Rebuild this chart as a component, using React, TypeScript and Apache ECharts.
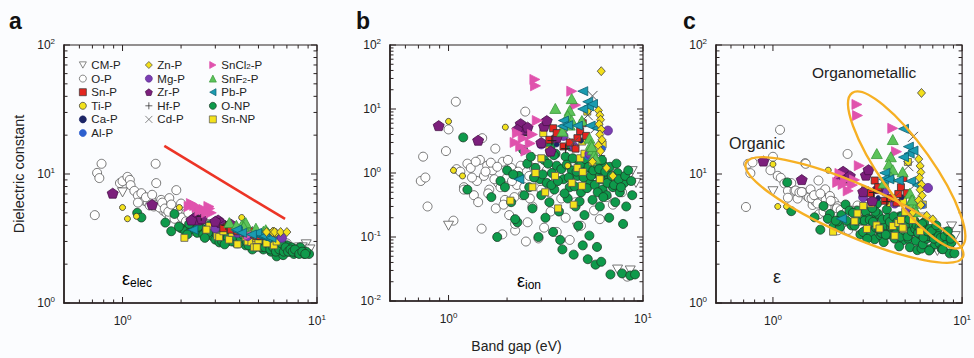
import React, { useEffect, useRef } from 'react';
import * as echarts from 'echarts';

// Each row: [band gap (eV), electronic dielectric constant, ionic dielectric constant]
type Row = [number, number, number];

const CM_P: Row[] = [
  [1.0, 7.2, 0.15], [4.6, 2.9, 0.14], [7.4, 2.5, 0.031], [8.6, 2.6, 0.03], [8.8, 2.85, 1.07],
  [8.4, 2.7, 0.84], [9.2, 2.6, 0.7], [7.0, 2.7, 0.6], [6.0, 3.0, 1.6],
];
const O_P: Row[] = [
  [0.72, 4.8, 0.75], [0.74, 10.2, 1.8], [0.78, 12.0, 0.3], [0.76, 9.3, 0.85], [0.97, 8.5, 2.2],
  [1.0, 8.8, 4.8], [1.06, 9.5, 0.18], [1.09, 9.0, 13], [1.1, 8.2, 1.15], [1.15, 7.4, 1.05],
  [1.2, 6.8, 0.6], [1.25, 7.1, 1.4], [1.3, 6.2, 1.2], [1.35, 6.0, 0.45], [1.4, 6.5, 0.75],
  [1.48, 12.0, 0.135], [1.49, 8.5, 3.5], [1.45, 5.6, 1.6], [1.52, 5.8, 0.9], [1.58, 6.3, 1.3],
  [1.62, 5.2, 0.55], [1.68, 5.0, 1.1], [1.74, 6.5, 2.4], [1.75, 4.6, 0.28], [1.8, 5.4, 0.7],
  [1.89, 7.5, 0.11], [1.9, 4.8, 1.5], [1.95, 4.3, 0.38], [2.0, 5.9, 0.85], [2.05, 4.1, 0.22],
  [2.1, 4.9, 1.2], [2.2, 5.5, 0.126], [2.25, 4.4, 0.65], [2.35, 4.0, 1.3], [2.4, 4.7, 0.45],
  [2.48, 5.2, 9.1], [2.55, 3.9, 0.17], [2.6, 4.3, 0.9], [2.7, 3.7, 0.3], [2.8, 4.1, 1.6],
  [2.9, 3.6, 0.095], [3.0, 3.9, 0.55], [3.1, 3.5, 0.14], [3.2, 3.8, 1.1], [3.35, 3.4, 0.25],
  [3.5, 3.6, 0.7], [3.6, 3.3, 0.12], [3.8, 3.5, 0.4], [4.0, 3.2, 0.2], [4.2, 3.4, 0.09],
  [4.5, 3.1, 0.35], [4.8, 3.2, 0.15], [5.2, 3.0, 0.6], [5.6, 3.1, 0.26], [6.0, 2.9, 0.19],
  [6.5, 2.8, 0.42], [7.0, 2.9, 0.32], [7.8, 2.7, 0.5], [8.3, 2.6, 0.024], [1.2, 6.0, 0.55],
  [1.32, 6.6, 0.85], [1.38, 5.7, 1.5], [1.42, 6.9, 0.35], [1.55, 5.5, 1.05], [1.6, 6.0, 0.48],
  [1.65, 5.4, 1.45], [1.72, 5.1, 0.8], [1.78, 5.8, 1.25], [1.85, 4.5, 0.6], [1.92, 5.2, 0.32],
  [2.02, 4.6, 1.6], [2.12, 4.3, 0.75], [2.18, 5.0, 0.42], [2.28, 4.2, 1.05], [2.45, 4.5, 0.6],
  [2.62, 3.8, 0.4], [2.75, 4.0, 1.2], [2.95, 3.7, 0.75], [3.3, 3.6, 0.5], [3.7, 3.4, 0.9],
  [2.2, 3.5, 0.16], [2.5, 3.6, 0.085],
];
const SN_P: Row[] = [
  [3.45, 3.9, 5.0], [3.6, 3.7, 4.2], [4.6, 3.5, 3.5], [4.75, 3.4, 4.5], [4.5, 3.6, 2.4],
  [4.9, 3.3, 6.0], [3.9, 3.6, 2.6], [4.2, 3.5, 3.0], [3.3, 3.8, 3.3], [5.1, 3.3, 3.8],
];
const TI_P: Row[] = [
  [1.0, 5.5, 6.4], [1.06, 4.5, 1.1], [1.18, 4.7, 0.9], [1.96, 5.5, 5.2], [4.1, 4.6, 1.3], [3.3, 4.0, 2.0],
];
const CA_P: Row[] = [[3.6, 3.7, 2.8], [4.8, 3.4, 3.2]];
const AL_P: Row[] = [[5.2, 3.5, 1.8], [6.2, 3.3, 2.4]];
const ZN_P: Row[] = [
  [6.1, 3.5, 39], [5.9, 3.55, 9.5], [6.0, 3.55, 8.0], [6.05, 3.5, 6.8], [5.95, 3.55, 5.8],
  [6.1, 3.5, 4.8], [6.0, 3.55, 4.0], [6.15, 3.5, 3.3], [5.9, 3.55, 2.7], [6.05, 3.55, 2.2],
  [5.5, 3.55, 1.5], [6.5, 3.55, 1.2], [7.0, 3.55, 0.9],
];
const MG_P: Row[] = [[6.6, 3.2, 4.6], [4.4, 3.3, 2.6], [3.9, 3.5, 3.8], [5.3, 3.4, 2.0], [3.0, 3.8, 2.8]];
const ZR_P: Row[] = [
  [0.89, 7.1, 5.5], [1.42, 5.8, 3.25], [2.35, 4.6, 5.9], [2.45, 4.4, 4.6], [2.55, 4.5, 5.2],
  [2.26, 4.4, 4.8], [3.1, 4.4, 5.4], [3.2, 4.2, 6.6], [3.0, 4.3, 3.0], [3.35, 4.0, 2.2], [3.6, 4.1, 3.6],
];
const HF_P: Row[] = [[2.54, 4.7, 3.9], [3.4, 4.0, 3.2], [4.0, 3.7, 2.4]];
const CD_P: Row[] = [[5.5, 3.4, 16], [5.2, 3.5, 8], [5.7, 3.4, 5], [4.4, 3.6, 3.0]];
const SNCL2_P: Row[] = [
  [2.78, 5.6, 29], [2.8, 5.4, 23], [4.3, 3.6, 19], [4.5, 3.4, 11.5], [2.86, 5.0, 6.6],
  [2.26, 5.9, 4.2], [2.42, 5.5, 3.5], [2.63, 5.3, 2.9], [2.2, 5.6, 3.0], [2.5, 5.2, 2.2],
  [2.35, 5.7, 2.6], [2.7, 5.0, 4.0],
];
const SNF2_P: Row[] = [
  [4.3, 4.0, 14.5], [3.54, 4.2, 10.2], [4.2, 4.1, 9.5], [4.1, 4.0, 7.9], [4.3, 4.2, 6.6],
  [4.2, 3.9, 5.6], [4.85, 3.8, 6.6], [5.3, 3.6, 3.5], [5.4, 3.5, 2.8], [5.5, 3.6, 2.3],
  [5.6, 3.5, 1.9], [5.7, 3.4, 1.7], [3.85, 4.0, 4.5], [5.45, 3.7, 2.6],
];
const PB_P: Row[] = [
  [4.9, 3.4, 19], [5.2, 3.3, 13], [5.25, 3.4, 11], [4.9, 3.5, 10], [5.5, 3.2, 12],
  [3.9, 3.6, 6.6], [3.85, 3.7, 5.4], [4.1, 3.5, 5.6], [4.6, 3.4, 5.5], [5.35, 3.3, 5.5],
  [5.8, 3.2, 5.0], [2.3, 3.7, 0.8],
];
const O_NP: Row[] = [
  [1.19, 5.0, 3.6], [1.25, 4.6, 0.55], [1.66, 4.2, 0.42], [1.78, 3.6, 0.1], [1.85, 4.9, 0.75],
  [2.0, 3.8, 1.1], [2.1, 3.6, 0.35], [2.26, 3.7, 0.17], [2.3, 3.9, 0.9], [2.42, 3.5, 2.3],
  [2.54, 3.8, 1.4], [2.6, 3.4, 0.6], [2.7, 3.7, 0.28], [2.8, 4.0, 1.2], [2.9, 3.3, 0.1],
  [2.95, 3.6, 0.8], [3.0, 3.1, 0.45], [3.1, 3.5, 1.6], [3.2, 3.8, 0.7], [3.3, 3.2, 0.35],
  [3.4, 3.5, 1.0], [3.45, 3.0, 0.12], [3.5, 3.3, 0.55], [3.6, 3.6, 1.3], [3.7, 3.1, 0.25],
  [3.75, 3.4, 0.09], [3.85, 2.9, 0.064], [3.9, 3.2, 0.8], [4.0, 3.5, 1.8], [4.1, 3.0, 0.4],
  [4.2, 3.3, 0.6], [4.3, 2.8, 1.1], [4.4, 3.1, 0.053], [4.5, 3.4, 0.3], [4.6, 2.9, 0.9],
  [4.7, 3.2, 1.5], [4.8, 2.7, 0.5], [4.9, 3.0, 0.074], [5.0, 3.3, 0.22], [5.1, 2.8, 1.2],
  [5.2, 3.1, 0.045], [5.3, 2.6, 0.105], [5.35, 2.9, 0.7], [5.5, 3.2, 0.38], [5.6, 2.7, 1.6],
  [5.7, 3.0, 0.037], [5.8, 2.5, 0.07], [5.9, 2.8, 0.95], [6.0, 3.1, 0.3], [6.1, 2.6, 0.041],
  [6.2, 2.3, 0.55], [6.3, 2.9, 1.3], [6.5, 2.7, 0.45], [6.6, 2.5, 0.8], [6.8, 2.6, 0.026],
  [7.0, 2.8, 0.6], [7.2, 2.5, 0.35], [7.4, 2.7, 1.0], [7.6, 2.4, 0.5], [7.8, 2.6, 0.027],
  [8.0, 2.5, 0.7], [8.2, 2.7, 0.3], [8.6, 2.4, 0.025], [9.1, 2.4, 0.026], [8.8, 2.5, 0.45],
  [3.55, 3.9, 2.0], [4.25, 3.6, 2.6], [5.45, 3.5, 1.9], [2.2, 4.1, 0.19], [3.15, 2.95, 0.2],
  [4.65, 2.6, 0.15], [6.7, 2.35, 0.2], [7.9, 2.45, 0.16],
  [3.05, 3.4, 0.95], [3.25, 3.0, 1.4], [3.38, 3.6, 0.65], [3.48, 3.2, 1.9], [3.65, 3.0, 0.75],
  [3.8, 3.3, 1.15], [3.95, 2.9, 0.48], [4.05, 3.2, 1.35], [4.15, 3.4, 0.85], [4.35, 3.0, 1.7],
  [4.45, 2.8, 0.62], [4.55, 3.2, 1.05], [4.72, 2.9, 0.36], [4.82, 3.3, 1.4], [4.95, 2.8, 0.85],
  [5.05, 3.0, 1.65], [5.15, 2.7, 0.58], [5.25, 3.2, 1.25], [5.4, 2.7, 0.9], [5.55, 2.9, 1.1],
  [5.65, 3.1, 0.65], [5.75, 2.6, 1.4], [5.85, 3.0, 0.5], [5.95, 2.7, 1.15], [6.05, 2.9, 0.8],
  [6.15, 2.5, 1.6], [6.25, 2.8, 0.42], [6.4, 2.6, 1.05], [6.55, 2.9, 0.7], [6.75, 2.5, 1.25],
  [6.9, 2.7, 0.9], [7.1, 2.5, 0.65], [7.3, 2.6, 1.4], [7.5, 2.5, 0.8], [7.7, 2.6, 0.6],
  [8.1, 2.4, 0.9], [8.4, 2.5, 1.1], [8.7, 2.4, 0.75], [2.45, 3.9, 0.45], [2.75, 3.5, 0.85],
  [2.65, 3.2, 1.8], [3.35, 2.85, 2.6], [1.95, 3.9, 0.6], [2.15, 3.4, 0.95],
];
const SN_NP: Row[] = [
  [2.08, 3.2, 0.37], [2.8, 3.95, 1.0], [3.0, 3.95, 1.7], [3.07, 3.3, 4.2], [3.14, 3.25, 0.5],
  [3.53, 3.1, 0.9], [3.66, 3.5, 0.28], [4.3, 3.25, 0.7], [4.4, 3.0, 0.32], [4.6, 2.97, 1.2],
  [4.75, 2.7, 1.7], [4.87, 3.08, 3.1], [4.9, 2.7, 1.04], [4.85, 3.2, 0.63], [5.0, 3.08, 2.0],
  [5.17, 3.3, 9.1], [6.0, 2.8, 0.8], [6.2, 3.0, 2.8], [3.3, 3.6, 2.3], [3.9, 2.85, 5.0],
  [2.7, 3.7, 0.6], [5.5, 2.9, 1.5],
];

// Guide line in panel a (band gap, dielectric constant)
const RED_LINE: [number, number][] = [[1.64, 16.5], [6.85, 4.48]];
// Ellipse major-axis end points in panel c (band gap, dielectric constant)
const ORGANIC_TIPS: [number, number][] = [[0.72, 12.2], [10.1, 2.27]];
const ORGANOMETALLIC_TIPS: [number, number][] = [[2.62, 42.5], [9.9, 2.72]];

// Axis ticks
const X_MAJOR = [1, 10];
const X_MINOR = [0.6, 0.7, 0.8, 0.9, 2, 3, 4, 5, 6, 7, 8, 9];
const Y_MAJOR_AC = [1, 10, 100];
const Y_MINOR_AC = [2, 3, 4, 5, 6, 7, 8, 9, 20, 30, 40, 50, 60, 70, 80, 90];
const Y_MAJOR_B = [0.01, 0.1, 1, 10, 100];
const Y_MINOR_B = [
  0.02, 0.03, 0.04, 0.05, 0.06, 0.07, 0.08, 0.09, 0.2, 0.3, 0.4, 0.5, 0.6, 0.7, 0.8, 0.9,
  2, 3, 4, 5, 6, 7, 8, 9, 20, 30, 40, 50, 60, 70, 80, 90,
];

const LEGEND_COL1 = ['CM-P', 'O-P', 'Sn-P', 'Ti-P', 'Ca-P', 'Al-P'];
const LEGEND_COL2 = ['Zn-P', 'Mg-P', 'Zr-P', 'Hf-P', 'Cd-P'];
const LEGEND_COL3 = ['SnCl2-P', 'SnF2-P', 'Pb-P', 'O-NP', 'Sn-NP'];

const PENTAGON = 'path://M5,0L9.76,3.45L7.94,9.05L2.06,9.05L0.24,3.45Z';
const DOWN_TRI = 'path://M0,0L10,0L5,9Z';
const RIGHT_TRI = 'path://M0,0L9,5L0,10Z';
const LEFT_TRI = 'path://M9,0L0,5L9,10Z';
const PLUS = 'path://M5,0L5,10M0,5L10,5';
const CROSS = 'path://M0,0L10,10M10,0L0,10';

type Def = { name: string; rows: Row[]; symbol: string; size: number | number[]; color: string; border: string; bw?: number };
const DEFS: Def[] = [
  { name: 'O-P', rows: O_P, symbol: 'circle', size: 9, color: '#ffffff', border: '#555555' },
  { name: 'CM-P', rows: CM_P, symbol: DOWN_TRI, size: [10, 9], color: '#ffffff', border: '#555555' },
  { name: 'O-NP', rows: O_NP, symbol: 'circle', size: 9, color: '#0e9a4b', border: '#1d3b27' },
  { name: 'Sn-NP', rows: SN_NP, symbol: 'rect', size: 7, color: '#f4e21b', border: '#555555' },
  { name: 'Ti-P', rows: TI_P, symbol: 'circle', size: 6, color: '#f3e21d', border: '#333333' },
  { name: 'Ca-P', rows: CA_P, symbol: 'circle', size: 5, color: '#1c2566', border: '#1c2566' },
  { name: 'Al-P', rows: AL_P, symbol: 'circle', size: 6, color: '#2c5fcf', border: '#2c5fcf' },
  { name: 'Mg-P', rows: MG_P, symbol: 'circle', size: 9, color: '#7b3db3', border: '#5b2d8a' },
  { name: 'Zr-P', rows: ZR_P, symbol: PENTAGON, size: [11, 10], color: '#7c1f7c', border: '#4a124a' },
  { name: 'Sn-P', rows: SN_P, symbol: 'rect', size: 7, color: '#e3261f', border: '#333333' },
  { name: 'Hf-P', rows: HF_P, symbol: PLUS, size: 9, color: 'rgba(0,0,0,0)', border: '#222222', bw: 1 },
  { name: 'Cd-P', rows: CD_P, symbol: CROSS, size: 10, color: 'rgba(0,0,0,0)', border: '#555555', bw: 1 },
  { name: 'SnCl2-P', rows: SNCL2_P, symbol: RIGHT_TRI, size: [10, 10], color: '#e052ad', border: '#e052ad' },
  { name: 'SnF2-P', rows: SNF2_P, symbol: 'triangle', size: [11, 10], color: '#5cc35a', border: '#3a9a3a' },
  { name: 'Pb-P', rows: PB_P, symbol: LEFT_TRI, size: [10, 9], color: '#1a9bb0', border: '#0c5f70' },
  { name: 'Zn-P', rows: ZN_P, symbol: 'diamond', size: [8, 9], color: '#f3df1a', border: '#444444' },
];

const FONT = '"Liberation Sans Narrow", "Liberation Sans", Arial, sans-serif';
const INK = '#222222';

const powLabel = (v: number) => {
  const e = Math.log10(v);
  const r = Math.round(e);
  if (Math.abs(e - r) > 1e-6) return '';
  return `10{s|${r}}`;
};

const legendName = (n: string) => {
  if (n === 'SnCl2-P') return 'SnCl{b|2}-P';
  if (n === 'SnF2-P') return 'SnF{b|2}-P';
  return n;
};

export default function App() {
  const ref = useRef<HTMLDivElement>(null);

  useEffect(() => {
    document.body.style.margin = '0';
    if (!ref.current) return;
    const chart = echarts.init(ref.current, undefined, { renderer: 'svg' });

    const grids = [
      { left: 64, top: 45, width: 253, height: 258 },
      { left: 390, top: 45, width: 253, height: 258 },
      { left: 716, top: 45, width: 252, height: 258 },
    ];
    const yRanges: [number, number][] = [[1, 100], [0.01, 100], [1, 100]];

    const axisLabel = {
      formatter: powLabel,
      fontSize: 12,
      color: INK,
      fontFamily: FONT,
      lineHeight: 16,
      margin: 9,
      rich: { s: { fontSize: 8, lineHeight: 8, verticalAlign: 'top', color: INK, fontFamily: FONT } },
    };
    const axisLine = { show: true, onZero: false, lineStyle: { color: '#2a2222', width: 1.6 } };

    const xAxes = grids.map((_, i) => ({
      type: 'log', logBase: 10, gridIndex: i, min: 0.5, max: 10,
      axisLine, axisTick: { show: false }, splitLine: { show: false },
      axisLabel: { ...axisLabel, margin: 10 },
      ...(i === 1 ? { name: 'Band gap (eV)', nameLocation: 'middle', nameGap: 38,
        nameTextStyle: { fontSize: 14, color: INK, fontFamily: FONT } } : {}),
    }));
    const yAxes = grids.map((_, i) => ({
      type: 'log', logBase: 10, gridIndex: i, min: yRanges[i][0], max: yRanges[i][1],
      axisLine, axisTick: { show: false }, splitLine: { show: false },
      axisLabel,
      ...(i === 0 ? { name: 'Dielectric constant', nameLocation: 'middle', nameGap: 38,
        nameTextStyle: { fontSize: 14.5, color: INK, fontFamily: FONT } } : {}),
    }));

    const project = (r: Row, p: number): [number, number] =>
      p === 0 ? [r[0], r[1]] : p === 1 ? [r[0], r[2]] : [r[0], r[1] + r[2]];

    const scatter: any[] = [];
    [0, 1, 2].forEach((p) => {
      DEFS.forEach((d) => {
        scatter.push({
          type: 'scatter', name: d.name, xAxisIndex: p, yAxisIndex: p,
          data: d.rows.map((r) => project(r, p)),
          symbol: d.symbol, symbolSize: d.size, silent: true,
          itemStyle: { color: d.color, borderColor: d.border, borderWidth: d.bw ?? 0.8, opacity: 1 },
        });
      });
    });

    const tickData = (yMinor: number[], yMajor: number[], yRef: number) => [
      ...X_MINOR.map((v) => [v, yRef, 0, 0]),
      ...X_MAJOR.map((v) => [v, yRef, 0, 1]),
      ...yMinor.map((v) => [1, v, 1, 0]),
      ...yMajor.map((v) => [1, v, 1, 1]),
    ];
    const tickSeries = [0, 1, 2].map((p) => ({
      type: 'custom', xAxisIndex: p, yAxisIndex: p, silent: true, z: 10,
      data: p === 1 ? tickData(Y_MINOR_B, Y_MAJOR_B, 0.01) : tickData(Y_MINOR_AC, Y_MAJOR_AC, 1),
      encode: { x: 0, y: 1 },
      renderItem: (params: any, api: any) => {
        const cs = params.coordSys;
        const kind = api.value(2);
        const len = api.value(3) ? 6 : 3.5;
        const pt = api.coord([api.value(0), api.value(1)]);
        const style = { stroke: '#2a2222', lineWidth: 1 };
        if (kind === 0) {
          const x = pt[0];
          return { type: 'group', children: [
            { type: 'line', shape: { x1: x, y1: cs.y + cs.height, x2: x, y2: cs.y + cs.height - len }, style },
            { type: 'line', shape: { x1: x, y1: cs.y, x2: x, y2: cs.y + len }, style },
          ] };
        }
        const y = pt[1];
        return { type: 'group', children: [
          { type: 'line', shape: { x1: cs.x, y1: y, x2: cs.x + len, y2: y }, style },
          { type: 'line', shape: { x1: cs.x + cs.width, y1: y, x2: cs.x + cs.width - len, y2: y }, style },
        ] };
      },
    }));

    const legendBase = {
      orient: 'vertical', top: 54, itemWidth: 7, itemHeight: 7, itemGap: 1.6,
      selectedMode: false, formatter: legendName,
      itemStyle: { borderWidth: 0.7 },
      textStyle: {
        fontSize: 11.5, lineHeight: 11, color: INK, fontFamily: FONT,
        rich: { b: { fontSize: 8, lineHeight: 6, verticalAlign: 'bottom', color: INK, fontFamily: FONT } },
      },
    };

    const texts: any[] = [
      { id: 'la', type: 'text', x: 9, y: 21, style: { text: 'a', font: 'bold 23px "Liberation Sans", Arial', fill: '#111', textVerticalAlign: 'middle' } },
      { id: 'lb', type: 'text', x: 356, y: 21, style: { text: 'b', font: 'bold 23px "Liberation Sans", Arial', fill: '#111', textVerticalAlign: 'middle' } },
      { id: 'lc', type: 'text', x: 683, y: 21, style: { text: 'c', font: 'bold 23px "Liberation Sans", Arial', fill: '#111', textVerticalAlign: 'middle' } },
      { id: 'ea', type: 'text', x: 122, y: 279, style: { text: '{e|ε}{s|elec}', textVerticalAlign: 'middle',
        rich: { e: { fontSize: 18, fontFamily: FONT, color: INK }, s: { fontSize: 12, fontFamily: FONT, color: INK, padding: [8, 0, 0, 0] } } } },
      { id: 'eb', type: 'text', x: 517, y: 281, style: { text: '{e|ε}{s|ion}', textVerticalAlign: 'middle',
        rich: { e: { fontSize: 18, fontFamily: FONT, color: INK }, s: { fontSize: 12, fontFamily: FONT, color: INK, padding: [8, 0, 0, 0] } } } },
      { id: 'ec', type: 'text', x: 773, y: 277, style: { text: 'ε', font: '18px ' + FONT, fill: INK, textVerticalAlign: 'middle' } },
      { id: 'org', type: 'text', x: 729, y: 143, style: { text: 'Organic', font: '16px "Liberation Sans", Arial', fill: INK, textVerticalAlign: 'middle' } },
      { id: 'orgm', type: 'text', x: 812, y: 72, style: { text: 'Organometallic', font: '15.5px "Liberation Sans", Arial', fill: INK, textVerticalAlign: 'middle' } },
    ];

    chart.setOption({
      animation: false,
      backgroundColor: '#fbfcfe',
      grid: grids.map((g) => ({ ...g, show: true, borderColor: '#2a2222', borderWidth: 1.2, backgroundColor: 'transparent' })),
      xAxis: xAxes,
      yAxis: yAxes,
      legend: [
        { ...legendBase, left: 74, data: LEGEND_COL1 },
        { ...legendBase, left: 140, data: LEGEND_COL2 },
        { ...legendBase, left: 204, data: LEGEND_COL3 },
      ],
      series: [
        ...scatter,
        { type: 'line', xAxisIndex: 0, yAxisIndex: 0, data: RED_LINE, symbol: 'none', silent: true, z: 5,
          lineStyle: { color: '#ec3426', width: 2.6 } },
        ...tickSeries,
      ],
      graphic: texts,
    });

    const ellipse = (id: string, tips: [number, number][], ry: number) => {
      const a = chart.convertToPixel({ gridIndex: 2 } as any, tips[0]) as number[];
      const b = chart.convertToPixel({ gridIndex: 2 } as any, tips[1]) as number[];
      const dx = b[0] - a[0];
      const dy = b[1] - a[1];
      return {
        id, type: 'ellipse', x: (a[0] + b[0]) / 2, y: (a[1] + b[1]) / 2,
        rotation: -Math.atan2(dy, dx), silent: true, z: 50,
        shape: { cx: 0, cy: 0, rx: Math.hypot(dx, dy) / 2, ry },
        style: { fill: 'none', stroke: '#f6b024', lineWidth: 2.4 },
      };
    };
    chart.setOption({
      graphic: [...texts, ellipse('ell1', ORGANIC_TIPS, 26), ellipse('ell2', ORGANOMETALLIC_TIPS, 26)],
    });

    return () => chart.dispose();
  }, []);

  return <div ref={ref} style={{ width: 974, height: 358 }} />;
}
